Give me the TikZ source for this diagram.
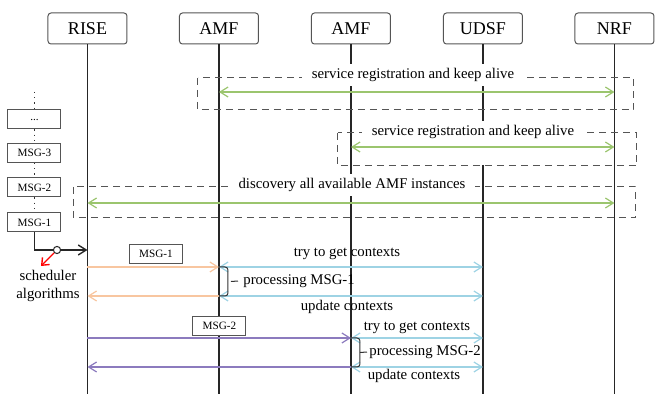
\documentclass[tikz,border=0pt]{standalone}
\usepackage{fontspec}
\setmainfont{Liberation Serif}
\usetikzlibrary{arrows.meta}
\usetikzlibrary{positioning}

\definecolor{regGreen}{HTML}{9BC56E}
\definecolor{reqOrange}{HTML}{F8C6A0}
\definecolor{ctxBlue}{HTML}{9ED3E4}
\definecolor{reqPurple}{HTML}{8C7BBE}
\definecolor{frameGray}{HTML}{555555}

\tikzset{
  entity/.style={draw=frameGray,line width=0.5pt,rounded corners=1.5pt,fill=white,minimum width=39.5pt,minimum height=15.5pt,inner sep=0pt,font=\fontsize{9}{10}\selectfont},
  msgbox/.style={draw=frameGray,line width=0.5pt,fill=white,minimum width=26.5pt,minimum height=9.5pt,inner sep=0pt,font=\fontsize{5.6}{6}\selectfont},
  lifeline/.style={draw=black!85,line width=0.8pt},
  groupbox/.style={draw=frameGray,line width=0.5pt,dash pattern=on 3.5pt off 2.5pt},
  msgarrow/.style={line width=0.6pt},
  bracket/.style={draw=black!80,line width=0.5pt,rounded corners=1.5pt},
  lbl/.style={font=\fontsize{7.4}{8.8}\selectfont,inner sep=1pt},
  lblbg/.style={lbl,fill=white,inner xsep=5pt,inner ysep=2pt},
}

\begin{document}
\begin{tikzpicture}[x=0.5pt,y=-0.5pt,>={Straight Barb[length=4pt,width=5pt]}]
\useasboundingbox (0,0) rectangle (661,407);

\node[entity] (rise) at (87.5,28.5) {RISE};
\node[entity] (amfa) at (219,28.5) {AMF};
\node[entity] (amfb) at (351,28.5) {AMF};
\node[entity] (udsf) at (483,28.5) {UDSF};
\node[entity] (nrf) at (614.5,28.5) {NRF};

\coordinate (rise-end) at (87.5,394);
\coordinate (amfa-end) at (219,394);
\coordinate (amfb-end) at (351,394);
\coordinate (udsf-cut) at (483,122);
\coordinate (udsf-on) at (483,165);
\coordinate (udsf-end) at (483,394);
\coordinate (nrf-end) at (614.5,394);
\draw[lifeline] (rise) -- (rise-end);
\draw[lifeline] (amfa) -- (amfa-end);
\draw[lifeline] (amfb) -- (amfb-end);
\draw[lifeline] (udsf) -- (udsf-cut);
\draw[lifeline] (udsf-on) -- (udsf-end);
\draw[lifeline] (nrf) -- (nrf-end);

\draw[groupbox] (198,78) rectangle (634,110);
\draw[groupbox] (338,133) rectangle (637,166);
\draw[groupbox] (74,187) rectangle (636,218);
\node[lblbg] (reg1) at (413,75) {service registration and keep alive};
\node[lblbg] (reg2) at (473,132) {service registration and keep alive};
\node[lblbg] (disc) at (352,185) {discovery all available AMF instances};

\coordinate (amfa-g1) at (219,92);
\coordinate (nrf-g1) at (614.5,92);
\coordinate (amfb-g2) at (351,147);
\coordinate (nrf-g2) at (614.5,147);
\coordinate (rise-g3) at (87.5,203);
\coordinate (nrf-g3) at (614.5,203);
\draw[msgarrow,regGreen,<->] (amfa-g1) -- (nrf-g1);
\draw[msgarrow,regGreen,<->] (amfb-g2) -- (nrf-g2);
\draw[msgarrow,regGreen,<->] (rise-g3) -- (nrf-g3);

\coordinate (queue-top) at (34.5,92);
\node[msgbox] (qdots) at (34.5,119.5) {...};
\node[msgbox] (qmsg3) at (34.5,153) {MSG-3};
\node[msgbox] (qmsg2) at (34.5,187.5) {MSG-2};
\node[msgbox] (qmsg1) at (34.5,222.5) {MSG-1};
\draw[black!80,line width=0.6pt,dotted] (queue-top) -- (qdots);
\draw[black!80,line width=0.6pt,dotted] (qdots) -- (qmsg3);
\draw[black!80,line width=0.6pt,dotted] (qmsg3) -- (qmsg2);
\draw[black!80,line width=0.6pt,dotted] (qmsg2) -- (qmsg1);

\coordinate (rise-k) at (87.5,250);
\draw[black!85,line width=0.7pt,->] (qmsg1) |- (rise-k);
\node[circle,draw=black!85,line width=0.5pt,fill=white,minimum size=3.6pt,inner sep=0pt] (sw) at (57,250) {};
\coordinate (sched-end) at (41,266);
\draw[red,line width=0.7pt,-{Straight Barb[length=3pt,width=5pt]}] (sw) -- (sched-end);
\node[lbl,align=center] (sched) at (48,286) {scheduler\\algorithms};

\coordinate (rise-o1) at (87.5,267);
\coordinate (amfa-o1) at (219,267);
\coordinate (udsf-o1) at (483,267);
\coordinate (rise-o2) at (87.5,296);
\coordinate (amfa-o2) at (219,296);
\coordinate (udsf-o2) at (483,296);
\node[msgbox] (msg1) at (156,254) {MSG-1};
\draw[msgarrow,reqOrange,->] (rise-o1) -- (amfa-o1);
\draw[msgarrow,reqOrange,->] (amfa-o2) -- (rise-o2);
\draw[msgarrow,ctxBlue,<->] (amfa-o1) -- (udsf-o1);
\draw[msgarrow,ctxBlue,<->] (amfa-o2) -- (udsf-o2);
\draw[bracket] (amfa-o1) -| (228,281.5) coordinate (b1tip) |- (amfa-o2);
\node[lbl,anchor=west] (proc1) at (241,281) {processing MSG-1};
\draw[bracket] ([xshift=1.5pt]b1tip) -- ([xshift=-1.5pt]proc1.west);
\node[lbl] (get1) at (347,254) {try to get contexts};
\node[lbl] (upd1) at (347,307) {update contexts};

\coordinate (rise-p1) at (87.5,338);
\coordinate (amfb-p1) at (351,338);
\coordinate (udsf-p1) at (483,338);
\coordinate (rise-p2) at (87.5,367);
\coordinate (amfb-p2) at (351,367);
\coordinate (udsf-p2) at (483,367);
\node[msgbox] (msg2) at (219.5,326) {MSG-2};
\draw[msgarrow,reqPurple,->] (rise-p1) -- (amfb-p1);
\draw[msgarrow,reqPurple,->] (amfb-p2) -- (rise-p2);
\draw[msgarrow,ctxBlue,<->] (amfb-p1) -- (udsf-p1);
\draw[msgarrow,ctxBlue,<->] (amfb-p2) -- (udsf-p2);
\draw[bracket] (amfb-p1) -| (360,352.5) coordinate (b2tip) |- (amfb-p2);
\node[lbl,anchor=west] (proc2) at (367,352) {processing MSG-2};
\draw[bracket] (b2tip) -- (proc2.west);
\node[lbl] (get2) at (417,328) {try to get contexts};
\node[lbl] (upd2) at (414,376) {update contexts};

\end{tikzpicture}
\end{document}
